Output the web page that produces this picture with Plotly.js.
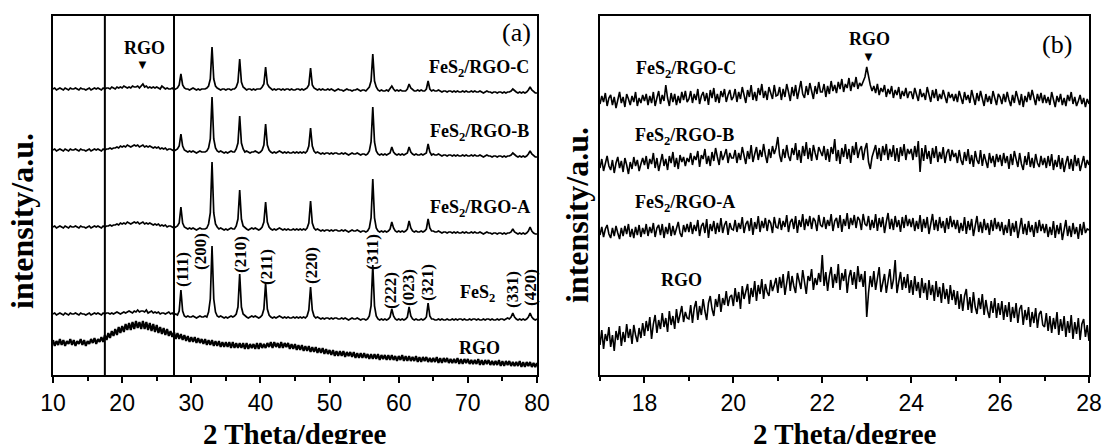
<!DOCTYPE html>
<html>
<head>
<meta charset="utf-8">
<script src="https://cdn.plot.ly/plotly-3.0.1.min.js"></script>
<style>html,body{margin:0;padding:0;background:#fff}#chart{width:1107px;height:444px}</style>
</head>
<body>
<div id="chart"></div>
<script>
// ---------- Panel (a): 2θ from 10 to 80, step 0.25 ----------
const aStart = 10, aStep = 0.25;
const aC = [
286,287,285,286, 287,286,285,287, 286,285,287,286, 286,287,286,285, 287,286,286,285,
286,287,285,286, 287,286,287,286, 285,287,286,287, 287,286,288,287, 286,288,287,288,
287,289,288,287, 288,287,289,288, 288,289,287,289, 291,288,289,287, 288,287,288,287,
288,287,286,289, 287,286,287,286, 286,287,285,286, 287,290,301,290, 287,286,286,285,
286,287,286,285, 286,285,286,286, 286,287,289,296, 328,296,289,287, 286,285,286,286,
285,286,286,285, 286,286,288,293, 316,293,288,286, 285,286,286,285, 286,285,286,286,
286,288,291,308, 291,288,286,285, 286,285,286,286, 285,286,285,286, 286,285,286,285,
285,286,286,285, 286,285,286,287, 290,307,290,287, 286,285,286,285, 286,285,285,286,
285,286,285,284, 285,286,285,285, 284,285,286,285, 285,284,285,285, 286,285,284,285,
285,284,286,288, 294,321,294,288, 285,284,285,284, 284,285,284,286, 289,286,284,285,
284,285,284,284, 284,286,291,287, 285,284,284,285, 284,285,284,284, 286,294,286,284,
285,284,284,285, 284,283,284,284, 283,284,284,283, 284,283,284,283, 283,284,283,284,
283,283,284,283, 284,283,283,284, 283,282,283,284, 283,283,282,283, 283,282,283,283,
282,283,282,283, 283,284,286,284, 283,282,283,282, 283,282,283,285, 288,285,283,282,
282];
const aB = [
225,226,224,225, 226,225,224,226, 225,224,226,225, 225,226,225,224, 226,225,225,224,
225,226,224,225, 226,225,226,225, 224,226,225,226, 226,227,226,227, 227,228,227,229,
228,229,228,230, 229,228,229,230, 229,230,228,229, 230,228,229,228, 229,228,227,228,
227,228,226,227, 226,227,225,226, 226,225,224,225, 226,229,241,229, 225,224,223,224,
223,224,223,222, 223,224,223,223, 223,224,227,236, 278,236,227,224, 223,224,223,222,
223,222,223,224, 223,223,226,232, 259,232,226,223, 224,223,222,223, 223,224,223,222,
223,225,230,251, 230,225,223,222, 223,222,223,224, 223,222,223,222, 223,222,222,223,
222,223,222,223, 222,223,222,224, 229,247,229,224, 222,223,222,221, 222,221,222,222,
221,222,221,222, 222,221,221,222, 221,222,221,220, 221,222,221,221, 222,221,220,221,
221,220,221,224, 233,268,233,224, 221,220,221,220, 221,220,221,222, 228,223,221,220,
221,220,221,220, 221,222,228,223, 221,220,221,220, 220,221,220,221, 222,231,223,220,
221,220,220,221, 220,219,220,220, 219,220,220,219, 220,219,220,219, 219,220,219,220,
219,219,220,219, 220,219,219,220, 219,218,219,220, 219,219,218,219, 219,218,219,219,
218,219,218,219, 219,220,222,220, 219,218,219,218, 219,218,219,221, 224,221,219,218,
218];
const aA = [
148,149,147,148, 149,148,147,149, 148,147,149,148, 148,149,148,147, 149,148,148,147,
148,149,147,148, 149,148,149,148, 147,149,148,149, 149,150,149,150, 150,151,150,152,
151,152,151,153, 152,151,152,153, 152,153,151,152, 153,151,152,151, 152,151,150,151,
150,151,149,150, 149,150,148,149, 149,148,147,148, 149,152,168,152, 148,147,146,147,
146,147,146,145, 146,147,146,146, 146,147,151,162, 213,162,151,148, 146,147,146,145,
146,145,146,147, 146,146,149,156, 185,156,149,147, 146,145,146,147, 146,147,146,145,
146,148,153,173, 153,148,146,145, 146,145,146,147, 146,145,146,145, 146,145,145,146,
145,146,145,146, 145,146,145,147, 152,174,152,147, 145,146,145,144, 145,144,145,145,
144,145,144,145, 145,144,144,145, 144,145,144,143, 144,145,144,144, 145,144,143,144,
144,143,144,147, 157,196,157,147, 144,143,144,143, 144,143,144,146, 153,147,144,143,
144,143,144,143, 144,146,154,147, 144,143,144,143, 143,144,143,144, 146,156,147,144,
144,143,143,144, 143,142,143,143, 142,143,143,142, 143,142,143,142, 142,143,142,143,
142,142,143,142, 143,142,142,143, 142,141,142,143, 142,142,141,142, 142,141,142,142,
141,142,141,142, 142,143,146,143, 142,141,142,141, 142,141,142,144, 148,144,142,141,
141];
const aFeS2 = [
61,62,60,61, 62,61,60,62, 61,60,62,61, 61,62,61,60, 62,61,61,60,
61,62,60,61, 62,61,62,61, 60,62,61,62, 62,61,62,61, 62,63,62,61,
62,63,62,63, 64,63,62,64, 63,65,63,64, 64,63,65,62, 63,64,62,63,
62,63,61,62, 62,61,62,63, 61,62,60,61, 60,64,85,64, 59,58,59,58,
58,59,58,57, 58,59,58,58, 59,58,63,76, 129,76,63,59, 58,59,58,57,
58,57,58,59, 58,59,61,68, 101,68,61,59, 58,57,58,59, 58,59,58,57,
58,60,66,92, 66,60,58,57, 58,57,58,59, 58,57,58,57, 58,57,57,58,
57,58,57,58, 57,58,57,59, 65,88,65,59, 57,58,57,56, 57,56,57,57,
56,57,56,57, 57,56,56,57, 56,57,56,55, 56,57,56,56, 57,56,55,56,
56,55,56,59, 69,110,69,59, 56,55,56,55, 56,55,56,58, 66,59,56,55,
56,55,56,55, 56,58,68,59, 56,55,56,55, 55,56,55,56, 58,72,59,56,
56,55,55,56, 55,56,55,55, 56,55,55,56, 55,56,55,56, 56,55,56,55,
55,56,55,56, 56,55,56,55, 55,56,55,56, 56,55,56,55, 55,56,55,56,
56,55,56,57, 56,58,62,58, 56,55,56,55, 56,55,56,58, 62,58,56,55,
56];
const aRGO = [
35,29,34,30, 36,30,35,29, 34,31,36,30, 35,29,34,31, 36,30,35,29,
34,31,36,32, 37,31,36,33, 38,33,40,35, 42,37,44,39, 46,40,48,42,
49,43,51,45, 52,45,53,46, 54,47,53,46, 54,46,53,45, 52,44,51,43,
50,42,48,41, 47,40,46,39, 44,38,43,36, 42,36,41,35, 40,34,39,33,
38,33,38,32, 37,32,36,31, 36,30,35,30, 35,29,34,29, 34,28,33,28,
33,28,33,27, 33,27,32,27, 32,27,32,26, 32,26,31,27, 31,26,32,26,
32,27,31,27, 32,28,33,27, 33,28,32,27, 33,27,32,28, 32,26,31,26,
31,25,30,25, 30,24,29,24, 29,23,28,23, 28,22,27,22, 27,21,26,21,
25,20,25,19, 24,19,24,19, 24,18,23,19, 23,18,23,17, 22,17,22,17,
22,17,21,16, 21,16,21,16, 21,15,20,16, 20,15,20,15, 20,15,19,14,
19,15,20,14, 19,14,19,14, 18,14,19,13, 18,13,18,14, 18,13,17,13,
17,13,18,12, 17,12,17,13, 17,12,16,12, 16,12,17,11, 16,11,16,12,
16,11,15,11, 15,11,16,10, 15,10,15,11, 15,10,14,10, 14,10,15,9,
14,9,14,10, 14,9,13,9, 13,9,14,8, 13,8,13,9, 13,8,12,8,
12];

// ---------- Panel (b): 2θ from 17 to 28, step 0.04 ----------
const bStart = 17, bStep = 0.04;
const bC = [
271,279,273,282,269,277,280,270,278,267,275,283,272,278,268,281,276,270,279,273,283,269,277,272,280,
274,281,270,279,272,283,269,277,284,271,280,274,290,277,269,282,273,281,270,279,272,283,275,284,273,
276,284,272,281,275,286,271,279,283,274,282,270,285,277,287,273,281,272,284,278,286,273,280,285,275,
278,286,273,283,276,288,281,272,285,278,290,275,283,274,287,280,291,277,284,275,288,282,276,290,279,
280,288,275,286,278,291,283,274,288,279,290,276,285,294,281,277,289,280,292,284,276,289,281,293,283,
283,291,278,289,281,294,284,290,282,293,286,296,283,291,287,297,284,293,288,298,286,292,289,293,298,
308,297,290,284,289,282,291,280,287,283,290,278,286,281,289,277,285,280,288,276,284,279,287,277,283,
283,276,287,279,274,286,278,282,275,288,280,273,285,277,286,274,281,276,285,278,272,283,277,281,274,
281,273,284,276,271,283,275,280,272,285,276,270,282,274,284,275,269,281,273,279,271,284,276,270,281,
278,271,281,273,283,275,269,280,272,284,276,270,281,268,279,273,283,275,285,277,270,281,274,282,272,
280,272,278,270,283,275,268,279,273,281,270,277,269,280,274,283,271,278,269,274,280,271,277,268,276,
271];
const bB = [
207,216,204,213,219,209,205,215,202,212,218,207,214,203,217,210,201,213,206,218,209,215,204,211,217,
210,219,206,216,211,222,207,217,204,214,221,209,216,205,219,212,223,208,217,206,220,213,218,209,217,
213,222,210,219,215,224,208,220,216,226,211,219,209,223,214,227,218,210,224,215,220,226,212,222,217,
217,225,212,222,215,228,219,211,224,216,230,213,221,228,215,225,218,231,220,212,226,217,229,221,227,
238,220,213,226,217,230,219,214,227,220,232,215,225,212,229,219,233,216,227,214,230,222,215,228,223,
219,229,215,226,213,228,221,236,214,225,211,227,218,231,216,226,212,229,220,233,217,225,229,215,226,
232,213,206,218,224,230,216,227,214,229,220,231,215,226,218,230,214,227,213,228,219,231,215,226,221,
226,215,229,218,234,203,227,214,230,216,224,211,227,217,229,213,223,216,228,212,222,226,214,225,218,
222,212,225,215,210,223,214,226,211,220,208,224,215,211,225,209,221,213,207,222,212,219,208,221,213,
220,209,222,212,219,206,221,210,224,214,208,222,211,205,219,210,223,208,217,207,221,212,208,219,210,
217,207,219,209,221,205,215,208,220,206,217,203,212,219,206,216,204,220,209,217,204,213,219,207,215,
210];
const bA = [
140,148,138,146,150,141,137,147,139,149,142,136,147,139,149,141,151,138,146,137,148,140,150,138,147,
141,151,139,148,142,152,138,147,150,140,151,137,148,141,152,139,149,140,147,153,142,138,150,143,151,
143,153,141,150,144,155,139,149,152,142,156,137,151,144,154,141,152,143,157,142,150,154,140,152,146,
145,155,143,152,146,158,142,151,154,144,157,140,153,146,159,143,154,147,157,144,155,152,142,158,148,
147,157,145,154,148,160,143,153,156,146,159,142,155,148,161,145,156,149,159,146,157,154,144,160,150,
148,158,146,155,149,161,144,154,157,147,160,143,156,149,162,146,157,150,160,147,158,155,145,161,151,
149,159,145,155,147,161,144,157,148,158,142,153,162,146,156,145,159,148,155,143,158,147,160,149,156,
148,157,144,154,146,160,143,156,147,158,141,152,161,145,155,144,158,147,154,142,157,146,159,148,155,
146,155,142,152,144,158,141,154,145,156,139,150,159,143,153,142,156,145,152,140,155,144,157,146,153,
144,153,140,150,142,156,139,152,143,154,137,148,157,141,151,140,154,143,150,138,153,142,155,144,151,
142,151,138,148,140,154,137,150,141,152,135,146,155,139,149,138,152,141,148,136,151,140,153,142,146,
145];
const bRGO = [
30,45,26,41,34,48,28,40,24,44,35,49,29,43,33,51,37,46,31,50,40,33,47,37,52,
39,54,44,58,36,51,60,42,55,46,62,48,57,43,64,50,59,46,66,52,61,69,53,63,57,
56,70,52,67,74,55,69,60,76,64,55,72,79,66,59,76,68,81,63,77,70,84,69,78,80,
69,87,73,83,66,89,76,85,91,71,87,78,94,74,90,81,96,76,91,83,79,95,84,90,97,
82,98,87,101,80,95,104,84,99,89,82,102,93,86,105,91,81,99,94,106,85,97,90,102,93,
120,89,103,84,99,108,87,101,92,111,85,102,94,106,82,98,105,90,103,86,109,93,101,88,104,
58,82,99,88,104,85,97,108,83,94,101,82,96,106,86,95,115,82,93,103,85,98,87,101,82,
95,80,99,84,93,77,97,82,92,75,95,80,90,74,94,78,88,72,92,76,86,71,90,75,85,
70,84,66,81,64,79,86,65,78,62,83,68,61,77,66,81,60,75,64,57,74,62,77,57,72,
60,74,55,70,58,73,53,68,57,72,52,66,70,50,65,55,68,48,63,52,67,47,61,64,50,
48,62,44,59,42,57,46,63,40,56,44,59,38,54,42,60,36,53,41,57,35,51,56,38,50,
34];

// Labels
const aSeriesLabels = ["FeS<sub>2</sub>/RGO-C", "FeS<sub>2</sub>/RGO-B", "FeS<sub>2</sub>/RGO-A", "FeS<sub>2</sub>", "RGO"];
const millerLabels = ["(111)", "(200)", "(210)", "(211)", "(220)", "(311)", "(222)", "(023)", "(321)", "(331)", "(420)"];
const xTitle = "2 Theta/degree";
const yTitle = "intensity/a.u.";

function xs(start, step, n) { const o = []; for (let i = 0; i < n; i++) o.push(+(start + step * i).toFixed(4)); return o; }

const W = 1107, H = 444;
const traces = [];
[aC, aB, aA, aFeS2].forEach(arr => traces.push({type: 'scatter', mode: 'lines', x: xs(aStart, aStep, arr.length), y: arr, xaxis: 'x', yaxis: 'y', line: {color: '#000', width: 1.7}, hoverinfo: 'skip'}));
traces.push({type: 'scatter', mode: 'lines', x: xs(aStart, aStep, aRGO.length), y: aRGO, xaxis: 'x', yaxis: 'y', line: {color: '#000', width: 2.2}, hoverinfo: 'skip'});
[bC, bB, bA, bRGO].forEach(arr => traces.push({type: 'scatter', mode: 'lines', x: xs(bStart, bStep, arr.length), y: arr, xaxis: 'x2', yaxis: 'y2', line: {color: '#000', width: 1.6}, hoverinfo: 'skip'}));

const serif = "Liberation Serif, 'Times New Roman', serif";
const sans = "Liberation Sans, Arial, sans-serif";
function lab(text, px, py, o) {
  o = o || {};
  return {text: text, x: px / W, y: 1 - py / H, xref: 'paper', yref: 'paper', showarrow: false,
    xanchor: o.xa || 'center', yanchor: 'middle', textangle: o.angle || 0,
    font: {family: o.family || serif, size: o.size || 18, color: '#000', weight: o.weight || 'bold'}};
}
const ann = [
  lab(aSeriesLabels[0], 531, 68, {xa: 'right'}),
  lab(aSeriesLabels[1], 531, 133, {xa: 'right'}),
  lab(aSeriesLabels[2], 532, 208, {xa: 'right'}),
  lab(aSeriesLabels[3], 477, 293),
  lab(aSeriesLabels[4], 479, 348),
  lab("RGO", 144, 48),
  lab("▼", 142, 65, {size: 13, family: sans}),
  lab("(a)", 516, 32, {size: 26, weight: 'normal'}),
  lab("RGO", 870, 39),
  lab("▼", 868, 56, {size: 13, family: sans}),
  lab("(b)", 1057, 45, {size: 26, weight: 'normal'}),
  lab(aSeriesLabels[0], 634, 70, {xa: 'left'}),
  lab(aSeriesLabels[1], 633, 136, {xa: 'left'}),
  lab(aSeriesLabels[2], 633, 203, {xa: 'left'}),
  lab("RGO", 681, 280),
  lab(yTitle, 22, 221, {angle: -90, size: 32}),
  lab(yTitle, 577, 215, {angle: -90, size: 32}),
  lab(xTitle, 295, 434, {size: 29}),
  lab(xTitle, 845, 434, {size: 29})
];
const millerPos = [[182,270],[200,252],[240,255],[266,267],[311,266],[372,252],[390,290],[408,288],[427,283],[512,290],[530,288]];
millerLabels.forEach((t, i) => ann.push(lab(t, millerPos[i][0], millerPos[i][1], {angle: -90, size: 17})));

const ydom = [(H - 375) / H, (H - 15.5) / H];
const baseX = {showline: true, mirror: true, linecolor: '#000', linewidth: 2, showgrid: false, zeroline: false,
  ticks: 'outside', ticklen: 6, tickwidth: 2, tickcolor: '#000',
  tickfont: {family: sans, size: 23, color: '#000'}};
const baseY = {showline: true, mirror: true, linecolor: '#000', linewidth: 2, showgrid: false, zeroline: false,
  ticks: '', showticklabels: false, range: [0, 359.5], fixedrange: true};
const layout = {
  width: W, height: H, margin: {l: 0, r: 0, t: 0, b: 0}, paper_bgcolor: '#fff', plot_bgcolor: '#fff', showlegend: false,
  xaxis: Object.assign({}, baseX, {domain: [53 / W, 537 / W], range: [10, 80], tick0: 10, dtick: 10,
    minor: {ticks: 'outside', ticklen: 4, tickwidth: 2, tickcolor: '#000', tick0: 15, dtick: 10, showgrid: false}, anchor: 'y'}),
  yaxis: Object.assign({}, baseY, {domain: ydom, anchor: 'x'}),
  xaxis2: Object.assign({}, baseX, {domain: [600 / W, 1089 / W], range: [17, 28], tick0: 18, dtick: 2,
    minor: {ticks: 'outside', ticklen: 4, tickwidth: 2, tickcolor: '#000', tick0: 17, dtick: 2, showgrid: false}, anchor: 'y2'}),
  yaxis2: Object.assign({}, baseY, {domain: ydom, anchor: 'x2'}),
  shapes: [17.5, 27.5].map(v => ({type: 'line', xref: 'x', yref: 'y domain', x0: v, x1: v, y0: 0, y1: 1, line: {color: '#000', width: 2}})),
  annotations: ann
};
Plotly.newPlot('chart', traces, layout, {staticPlot: true, displayModeBar: false});
</script>
</body>
</html>
